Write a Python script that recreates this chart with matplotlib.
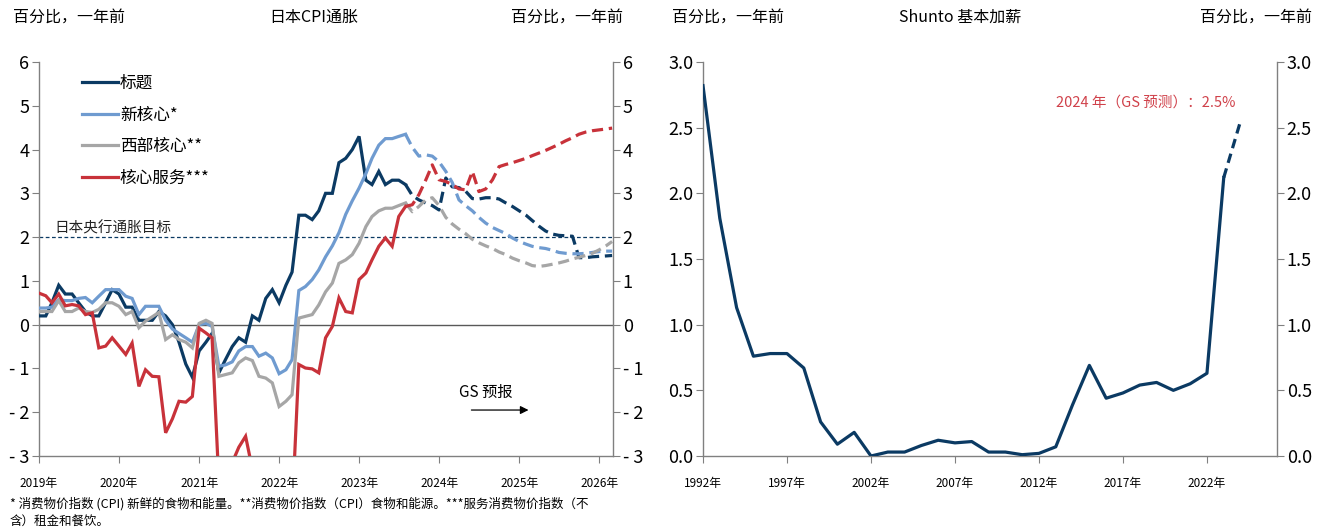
import matplotlib
matplotlib.use("Agg")
import matplotlib.pyplot as plt
import numpy as np
import pandas as pd

plt.rcParams['font.family'] = ['Noto Sans CJK SC', 'DejaVu Sans']
plt.rcParams['axes.unicode_minus'] = False

# ---------------- 数据：日本CPI通胀（月度，2019年1月起） ----------------
months = pd.date_range('2019-01-01', '2026-03-01', freq='MS')
n_actual = 56  # 实际数据到 2023年8月（含），之后为 GS 预测

headline = [0.2, 0.2, 0.5, 0.9, 0.7, 0.7, 0.5, 0.3, 0.2, 0.2, 0.5, 0.8,
            0.7, 0.4, 0.4, 0.1, 0.1, 0.1, 0.3, 0.2, 0.0, -0.4, -0.9, -1.2,
            -0.6, -0.4, -0.2, -1.1, -0.8, -0.5, -0.3, -0.4, 0.2, 0.1, 0.6, 0.8,
            0.5, 0.9, 1.2, 2.5, 2.5, 2.4, 2.6, 3.0, 3.0, 3.7, 3.8, 4.0,
            4.3, 3.3, 3.2, 3.5, 3.2, 3.3, 3.3, 3.2,
            2.95, 2.85, 2.78, 2.72, 2.62, 3.35, 3.15, 3.13, 3.05, 2.88, 2.87, 2.9,
            2.9, 2.87, 2.78, 2.7, 2.6, 2.5, 2.38, 2.25, 2.14, 2.07, 2.04, 2.03,
            2.02, 1.53, 1.53, 1.55, 1.56, 1.57, 1.58]

new_core = [0.38, 0.38, 0.4, 0.57, 0.55, 0.55, 0.6, 0.62, 0.5, 0.65, 0.8, 0.8,
            0.8, 0.65, 0.6, 0.23, 0.42, 0.42, 0.42, 0.1, -0.1, -0.2, -0.3, -0.4,
            0.0, 0.03, -0.04, -0.95, -0.92, -0.85, -0.6, -0.5, -0.5, -0.72, -0.65, -0.76,
            -1.12, -1.03, -0.8, 0.78, 0.87, 1.03, 1.25, 1.55, 1.8, 2.1, 2.52, 2.83,
            3.12, 3.45, 3.8, 4.1, 4.25, 4.25, 4.3, 4.35,
            4.05, 3.85, 3.88, 3.85, 3.72, 3.5, 3.25, 2.85, 2.72, 2.6, 2.45, 2.32,
            2.22, 2.15, 2.08, 1.98, 1.9, 1.84, 1.79, 1.76, 1.74, 1.7, 1.65, 1.63,
            1.62, 1.62, 1.63, 1.65, 1.67, 1.68, 1.68]

west_core = [0.3, 0.3, 0.3, 0.55, 0.3, 0.3, 0.38, 0.3, 0.28, 0.35, 0.5, 0.5,
             0.42, 0.23, 0.3, -0.07, 0.08, 0.18, 0.28, -0.34, -0.23, -0.34, -0.4, -0.53,
             0.03, 0.1, 0.03, -1.18, -1.14, -1.1, -0.87, -0.76, -0.82, -1.18, -1.22, -1.33,
             -1.87, -1.75, -1.6, 0.15, 0.19, 0.23, 0.45, 0.75, 0.95, 1.4, 1.48, 1.6,
             1.86, 2.24, 2.47, 2.6, 2.66, 2.66, 2.72, 2.78,
             2.58, 2.7, 2.85, 2.9, 2.72, 2.45, 2.3, 2.18, 2.08, 1.95, 1.87, 1.8,
             1.74, 1.66, 1.6, 1.52, 1.46, 1.41, 1.35, 1.33, 1.35, 1.38, 1.41, 1.45,
             1.5, 1.54, 1.58, 1.63, 1.71, 1.8, 1.9]

core_services = [0.72, 0.66, 0.5, 0.7, 0.43, 0.46, 0.43, 0.23, 0.27, -0.53, -0.49, -0.3,
                 -0.49, -0.68, -0.42, -1.41, -1.03, -1.18, -1.19, -2.47, -2.15, -1.75, -1.77, -1.64,
                 -0.08, -0.19, -0.3, -3.6, -3.6, -3.15, -2.8, -2.55, -3.3, -4.0, -4.1, -4.0,
                 -4.2, -4.3, -4.3, -0.91, -0.99, -1.01, -1.1, -0.3, -0.04, 0.61, 0.3, 0.27,
                 1.03, 1.18, 1.48, 1.79, 1.98, 1.79, 2.47, 2.7,
                 2.74, 2.97, 3.3, 3.65, 3.31, 3.27, 3.2, 3.1, 3.08, 3.5, 3.04, 3.1,
                 3.31, 3.61, 3.66, 3.7, 3.75, 3.8, 3.86, 3.92, 3.98, 4.05, 4.12, 4.2,
                 4.27, 4.35, 4.4, 4.43, 4.45, 4.47, 4.49]

series_names = ['标题', '新核心*', '西部核心**', '核心服务***']
series_colors = ['#0b3a63', '#6f9bd0', '#a6a6a6', '#c8323a']
boj_target = 2.0

# ---------------- 数据：春斗基本加薪（年度） ----------------
shunto_years = list(range(1992, 2025))
shunto_base = [2.82, 1.81, 1.13, 0.76, 0.78, 0.78, 0.67, 0.26, 0.09, 0.18,
               0.0, 0.03, 0.03, 0.08, 0.12, 0.10, 0.11, 0.03, 0.03, 0.01,
               0.02, 0.07, 0.39, 0.69, 0.44, 0.48, 0.54, 0.56, 0.50, 0.55,
               0.63, 2.12, 2.55]

navy = '#0b3a63'
spine_gray = '#808080'

fig = plt.figure(figsize=(13.28, 5.31), dpi=100)
ax1 = fig.add_axes([39 / 1328, 1 - 456 / 531, 574 / 1328, 394 / 531])
ax2 = fig.add_axes([703 / 1328, 1 - 456 / 531, 574 / 1328, 394 / 531])

# ---------------- 左图 ----------------
ax1.axhline(0, color='#595959', lw=1.0, zorder=1)
ax1.axhline(boj_target, color=navy, lw=0.9, ls=(0, (3, 2)), zorder=1)
ax1.text(pd.Timestamp('2019-03-10'), boj_target + 0.04, '日本央行通胀目标',
         fontsize=10.5, style='italic', color='#222222', va='bottom')

all_series = [headline, new_core, west_core, core_services]
for vals, name, col in zip(all_series, series_names, series_colors):
    vals = np.array(vals)
    ax1.plot(months[:n_actual], vals[:n_actual], color=col, lw=2.3,
             label=name, solid_joinstyle='miter', zorder=3)
    ax1.plot(months[n_actual - 1:], vals[n_actual - 1:], color=col, lw=2.3,
             ls=(0, (3.5, 1.8)), zorder=3)

ax1.set_ylim(-3, 6)
ax1.set_xlim(pd.Timestamp('2019-01-01'), pd.Timestamp('2026-03-05'))
yt = [6, 5, 4, 3, 2, 1, 0, -1, -2, -3]
ax1.set_yticks(yt)
ax1.set_yticklabels([str(v) if v >= 0 else '- %d' % -v for v in yt])
xt = [pd.Timestamp('%d-01-01' % y) for y in range(2019, 2027)]
ax1.set_xticks(xt)
ax1.set_xticklabels(['%d年' % y for y in range(2019, 2027)])

leg = ax1.legend(loc='upper left', bbox_to_anchor=(0.048, 1.005), frameon=False,
                 fontsize=12, handlelength=2.2, handletextpad=0.1,
                 labelspacing=0.87)

ax1.text(pd.Timestamp('2024-08-01'), -1.55, 'GS 预报', style='italic',
         fontsize=11, ha='center', va='center')
ax1.annotate('', xy=(pd.Timestamp('2025-02-25'), -1.95),
             xytext=(pd.Timestamp('2024-05-15'), -1.95),
             arrowprops=dict(arrowstyle='-|>', color='black', lw=0.9,
                             mutation_scale=12))

# ---------------- 右图 ----------------
ax2.plot(shunto_years[:-1], shunto_base[:-1], color=navy, lw=2.3, zorder=3)
ax2.plot(shunto_years[-2:], shunto_base[-2:], color=navy, lw=2.3,
         ls=(0, (3, 1.8)), zorder=3)
ax2.set_ylim(0, 3.0)
ax2.set_xlim(1992, 2026.17)
ax2.set_yticks([0, 0.5, 1.0, 1.5, 2.0, 2.5, 3.0])
ax2.set_yticklabels(['%.1f' % v for v in [0, 0.5, 1.0, 1.5, 2.0, 2.5, 3.0]])
ax2.set_xticks(list(range(1992, 2023, 5)))
ax2.set_xticklabels(['%d年' % y for y in range(1992, 2023, 5)])
ax2.text(2018.35, 2.69, '2024 年（GS 预测）：2.5%', color='#d0414a',
         style='italic', fontsize=10.5, ha='center', va='center')

for ax in (ax1, ax2):
    ax.spines['top'].set_visible(False)
    for s in ('left', 'right', 'bottom'):
        ax.spines[s].set_color(spine_gray)
        ax.spines[s].set_linewidth(1.0)
    ax.tick_params(axis='y', which='both', left=True, right=True,
                   labelleft=True, labelright=True, direction='out',
                   length=5, color=spine_gray, labelsize=13, pad=2)
    ax.tick_params(axis='x', direction='out', length=5, color=spine_gray,
                   labelsize=8.5, pad=10)

# ---------------- 标题与注释 ----------------
fig.text(13 / 1328, 1 - 17 / 531, '百分比，一年前', fontsize=11.5, va='center')
fig.text(314 / 1328, 1 - 17 / 531, '日本CPI通胀', fontsize=11.5, va='center', ha='center')
fig.text(623 / 1328, 1 - 17 / 531, '百分比，一年前', fontsize=11.5, va='center', ha='right')
fig.text(672 / 1328, 1 - 17 / 531, '百分比，一年前', fontsize=11.5, va='center')
fig.text(960 / 1328, 1 - 17 / 531, 'Shunto 基本加薪', fontsize=11.5, va='center', ha='center')
fig.text(1312 / 1328, 1 - 17 / 531, '百分比，一年前', fontsize=11.5, va='center', ha='right')

fig.text(10 / 1328, 1 - 504 / 531,
         '* 消费物价指数 (CPI) 新鲜的食物和能量。**消费物价指数（CPI）食物和能源。***服务消费物价指数（不',
         fontsize=9, va='center')
fig.text(10 / 1328, 1 - 521 / 531, '含）租金和餐饮。', fontsize=9, va='center')

fig.savefig('out.png', dpi=100)
